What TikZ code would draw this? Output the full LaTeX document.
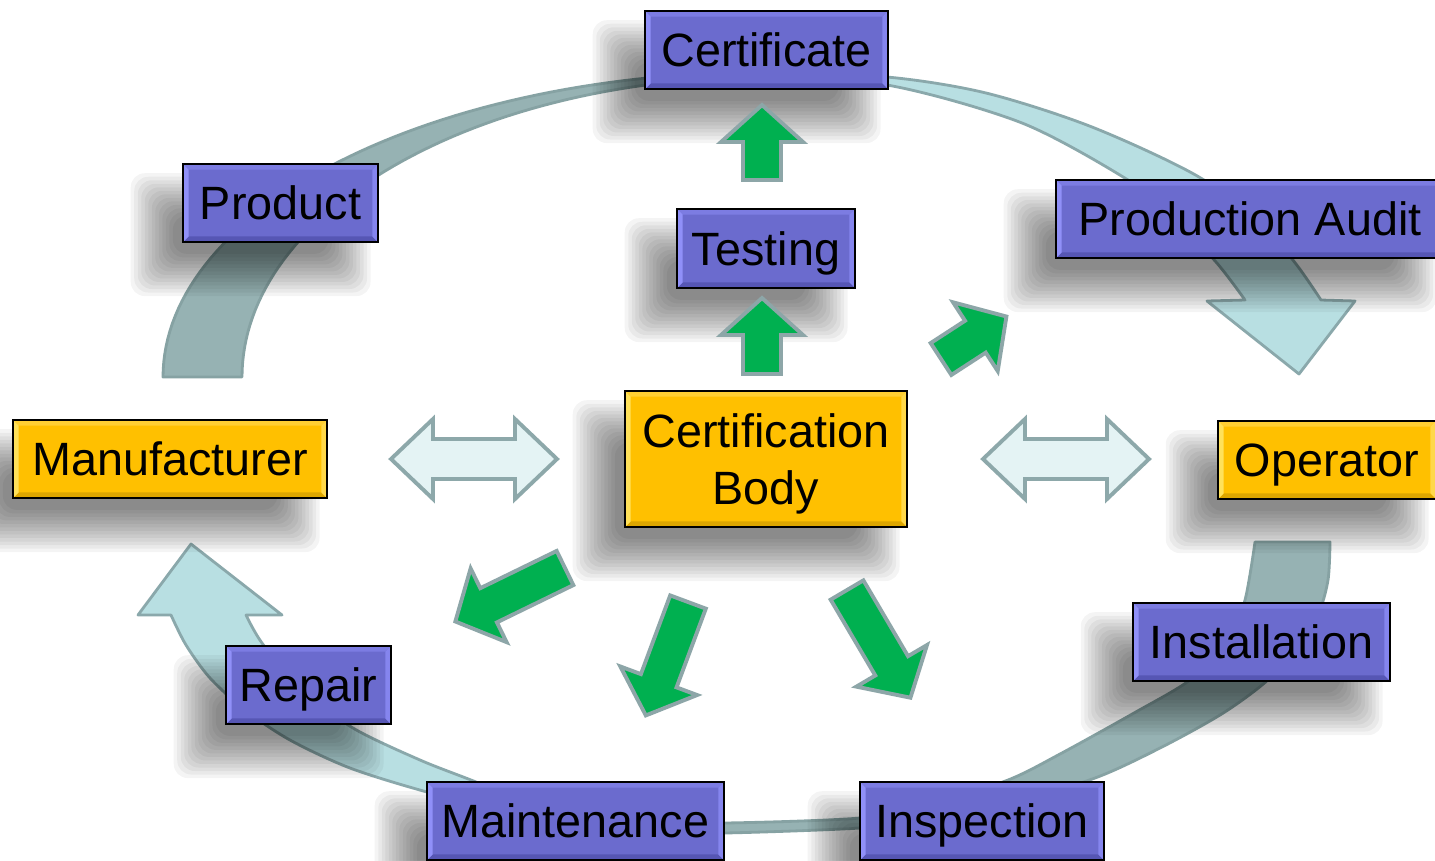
\documentclass[tikz,border=0pt]{standalone}
\usepackage{fontspec}
\setmainfont{Liberation Sans}
\definecolor{boxP}{HTML}{6B6BCE}
\definecolor{boxPL}{HTML}{9090F8}
\definecolor{boxPT}{HTML}{7C7CE2}
\definecolor{boxPR}{HTML}{8585EE}
\definecolor{boxPB}{HTML}{5656B4}
\definecolor{boxO}{HTML}{FFC000}
\definecolor{boxOL}{HTML}{FFE15A}
\definecolor{boxOT}{HTML}{FFCF33}
\definecolor{boxOR}{HTML}{FFD84A}
\definecolor{boxOB}{HTML}{DDA600}
\definecolor{bandG}{HTML}{96B2B3}
\definecolor{bandGd}{HTML}{86A2A3}
\definecolor{bandL}{HTML}{B8DFE2}
\definecolor{bandLd}{HTML}{8AA8AB}
\definecolor{arrG}{HTML}{00B050}
\definecolor{arrGb}{HTML}{8DA6A8}
\definecolor{dblF}{HTML}{E4F3F4}
\definecolor{dblD}{HTML}{8DA8AA}
\newlength\pxl
\setlength\pxl{0.02cm}
\pgfdeclarelayer{bandlayer}
\pgfdeclarelayer{shadowlayer}
\pgfsetlayers{bandlayer,shadowlayer,main}
\newcommand\softshadow[1]{%
  \foreach \d in {0,2,...,24}{%
    \fill[black, fill opacity=0.045, rounded corners=8pt]
      ([xshift=-29pt+\d pt, yshift=-30pt+\d pt]#1.south west) rectangle
      ([xshift=-5pt-\d pt, yshift=-6pt-\d pt]#1.north east);
  }}
\tikzset{
  bevelbox/.style n args={5}{
    fill=#1, draw=black, line width=1.5pt, inner sep=0pt,
    font=\fontsize{26.6pt}{32.9pt}\selectfont,
    path picture={
      \fill[#5] (path picture bounding box.south west) -- (path picture bounding box.south east)
        -- ([xshift=-3.2pt,yshift=3.2pt]path picture bounding box.south east)
        -- ([xshift=3.2pt,yshift=3.2pt]path picture bounding box.south west) -- cycle;
      \fill[#3] (path picture bounding box.north west) -- (path picture bounding box.north east)
        -- ([xshift=-3.2pt,yshift=-3.2pt]path picture bounding box.north east)
        -- ([xshift=3.2pt,yshift=-3.2pt]path picture bounding box.north west) -- cycle;
      \fill[#2] (path picture bounding box.south west) -- (path picture bounding box.north west)
        -- ([xshift=3.2pt,yshift=-3.2pt]path picture bounding box.north west)
        -- ([xshift=3.2pt,yshift=3.2pt]path picture bounding box.south west) -- cycle;
      \fill[#4] (path picture bounding box.south east) -- (path picture bounding box.north east)
        -- ([xshift=-3.2pt,yshift=-3.2pt]path picture bounding box.north east)
        -- ([xshift=-3.2pt,yshift=3.2pt]path picture bounding box.south east) -- cycle;
    }
  },
  purplebox/.style={bevelbox={boxP}{boxPL}{boxPT}{boxPR}{boxPB}},
  orangebox/.style={bevelbox={boxO}{boxOL}{boxOT}{boxOR}{boxOB}},
  oneline/.style={text height=19pt, text depth=0pt},
  bandg/.style={fill=bandG, draw=bandGd, line width=1.6pt, line join=round},
  bandl/.style={fill=bandL, draw=bandLd, line width=1.6pt, line join=round},
  pics/garrow/.style={code={
    \filldraw[fill=arrG, draw=arrGb, line width=2.2pt, line join=miter]
      (0,-19) -- ({#1-37},-19) -- ({#1-37},-41) -- (#1,0) -- ({#1-37},41) -- ({#1-37},19) -- (0,19) -- cycle;
  }},
  pics/dblarrow/.style={code={
    \filldraw[fill=dblF, draw=dblD, line width=2.2pt, line join=miter]
      (-83,0) -- (-41,-40) -- (-41,-20) -- (41,-20) -- (41,-40) -- (83,0)
      -- (41,40) -- (41,20) -- (-41,20) -- (-41,40) -- cycle;
  }},
}
\begin{document}
\begin{tikzpicture}[x=0.02cm, y=-0.02cm]
\useasboundingbox (0,0) rectangle (1435,860);

\begin{pgfonlayer}{bandlayer}
\fill[white] (0,0) rectangle (1435,860);
% ring bands
\filldraw[bandg] plot[domain=180:95, samples=60] ({766+603*cos(\x)},{377-305*sin(\x)})
  -- plot[domain=95:180, samples=60] ({766+524*cos(\x)},{377-300*sin(\x)}) -- cycle;
\filldraw[bandl] plot[smooth] coordinates {(760,72) (887,77) (986,93) (1092,127) (1199,177) (1265,229) (1296,264) (1321,300)}
  -- (1355,301) -- (1299,374) -- (1207,301) -- (1245,300)
  -- plot[smooth] coordinates {(1245,300) (1216,262) (1170,215) (1128,180) (1022,123) (887,85) (760,78)} -- cycle;
\filldraw[bandg] plot[smooth] coordinates {(1330,542) (1328,580) (1318,615) (1296,652) (1262,685) (1220,715) (1160,748) (1095,778) (1010,803) (920,820) (860,828) (724,833) (640,832)}
  -- (640,821)
  -- plot[smooth] coordinates {(640,821) (724,823) (860,818) (930,805) (1008,780) (1060,754) (1134,713) (1190,680) (1228,642) (1245,600) (1255,542)} -- cycle;
\filldraw[bandl] plot[smooth] coordinates {(680,822) (620,818) (530,805) (476,782) (420,760) (353,728) (300,688) (262,643) (246,615)}
  -- (282,615) -- (191,544) -- (138,615) -- (171,615)
  -- plot[smooth] coordinates {(171,615) (186,645) (210,678) (245,710) (290,740) (350,768) (427,792) (520,815) (620,829) (680,832)} -- cycle;
\end{pgfonlayer}

% boxes
\node[purplebox, oneline, minimum width=243\pxl, minimum height=78\pxl] (cert) at (766.5,50) {Certificate};
\node[purplebox, oneline, minimum width=178\pxl, minimum height=79\pxl] (test) at (766,248.5) {Testing};
\node[purplebox, oneline, minimum width=195\pxl, minimum height=78\pxl] (prod) at (280.5,203) {Product};
\node[purplebox, oneline, minimum width=388\pxl, minimum height=78\pxl] (paud) at (1250,219) {Production Audit};
\node[orangebox, oneline, minimum width=314\pxl, minimum height=78\pxl] (manu) at (170,459) {Manufacturer};
\node[orangebox, text depth=0pt, minimum width=282\pxl, minimum height=136\pxl] (cb) at (766,459) {\parbox[b]{148pt}{\centering Certification\\Body}};
\node[orangebox, oneline, minimum width=218\pxl, minimum height=78\pxl] (oper) at (1327,460) {Operator};
\node[purplebox, oneline, minimum width=257\pxl, minimum height=78\pxl] (inst) at (1261.5,642) {Installation};
\node[purplebox, oneline, minimum width=165\pxl, minimum height=78\pxl] (repair) at (308.5,685) {Repair};
\node[purplebox, oneline, minimum width=297\pxl, minimum height=78\pxl] (maint) at (575.5,821) {Maintenance};
\node[purplebox, oneline, minimum width=244\pxl, minimum height=78\pxl] (insp) at (982,821) {Inspection};

\begin{pgfonlayer}{shadowlayer}
\foreach \n in {cert,test,prod,paud,manu,cb,oper,inst,repair,maint,insp}{\softshadow{\n}}
\end{pgfonlayer}

% green block arrows
\pic[rotate=90] at (762,180) {garrow=75};
\pic[rotate=90] at (762,374) {garrow=76};
\pic[rotate=33] at (941,359) {garrow=78};
\pic[rotate=206] at (565,568) {garrow=122};
\pic[rotate=249.6] at (688,602) {garrow=121};
\pic[rotate=-59.5] at (847,590) {garrow=125};

% double arrows
\pic at (474,459) {dblarrow};
\pic at (1066,459) {dblarrow};
\end{tikzpicture}
\end{document}
